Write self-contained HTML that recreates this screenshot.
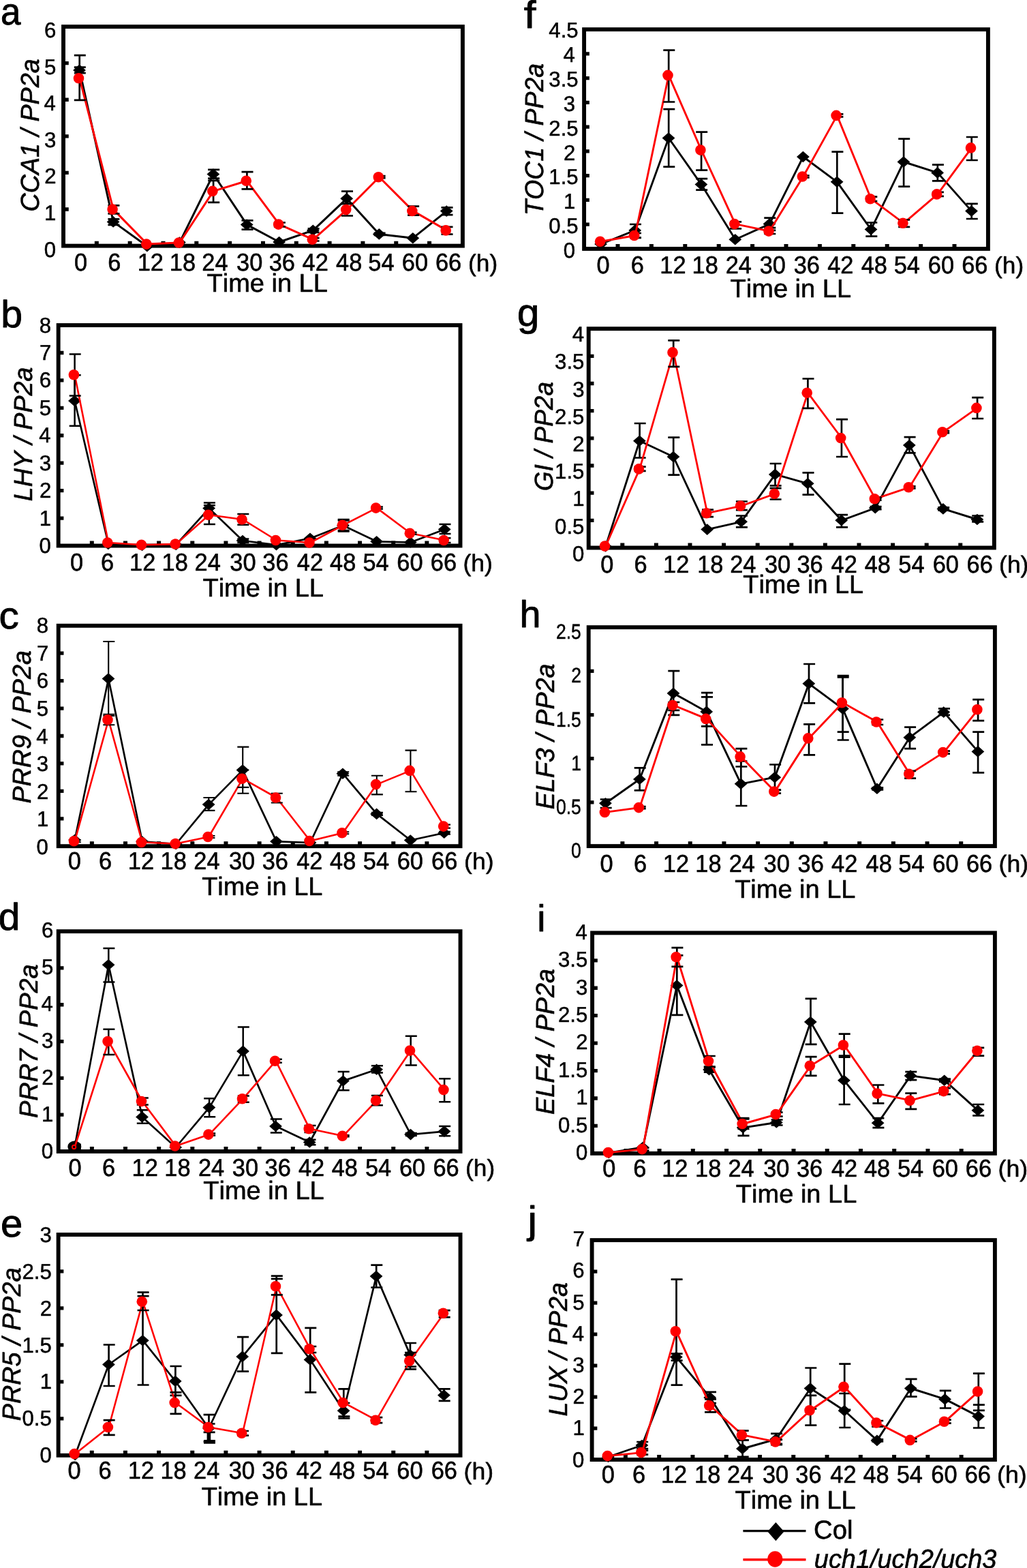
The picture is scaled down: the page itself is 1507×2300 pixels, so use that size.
<!DOCTYPE html>
<html lang="en"><head><meta charset="utf-8"><title>Figure</title>
<style>
html,body{margin:0;padding:0;background:#fff}
body{width:1507px;height:2300px;overflow:hidden}
svg{display:block}
text{font-family:"Liberation Sans",sans-serif;font-size:100px;font-kerning:none;fill:#000;stroke:#000;stroke-width:1.6px;stroke-linejoin:round;text-rendering:geometricPrecision}
</style></head><body>
<svg width="1507" height="2300" viewBox="0 0 1507 2300" role="img" aria-label="Time-course expression of circadian clock genes in Col and uch1/uch2/uch3 under constant light">
<rect width="1507" height="2300" fill="#fff"/>
<g>
<path d="M93 307.02h7.75M93 253.43h7.75M93 199.85h7.75M93 146.27h7.75M93 92.68h7.75" stroke="#000" stroke-width="5.3" fill="none"/>
<path d="M141.82 360.6v-6.95M190.65 360.6v-6.95M239.47 360.6v-6.95M288.3 360.6v-6.95M337.12 360.6v-6.95M385.95 360.6v-6.95M434.78 360.6v-6.95M483.6 360.6v-6.95M532.42 360.6v-6.95M581.25 360.6v-6.95M630.07 360.6v-6.95" stroke="#000" stroke-width="6" fill="none"/>
<rect x="93" y="39.1" width="585.9" height="321.5" fill="none" stroke="#000" stroke-width="5.9"/>
<polyline points="116.7,102.9 166.3,325.4 216.05,361.3 263.6,355.6 313.1,255.5 362.4,329.6 409.8,355 459.5,337.9 508.9,291.2 556.5,343.4 606,349.2 655.4,309.6" fill="none" stroke="#000" stroke-width="3" stroke-linejoin="round"/>
<path d="M116.7 98.6V107.2M108.8 98.6H125.8M108.8 107.2H125.8M166.3 321.3V329.8M158.4 321.3H175.4M158.4 329.8H175.4M313.1 248.9V261.7M305.2 248.9H322.2M305.2 261.7H322.2M362.4 323.3V336.6M354.5 323.3H371.5M354.5 336.6H371.5M459.5 335.4V340.9M451.6 335.4H468.6M451.6 340.9H468.6M508.9 280.6V298.8M501 280.6H518M501 298.8H518M556.5 341.9V344.9M548.6 341.9H565.6M548.6 344.9H565.6M655.4 304.4V315.2M647.5 304.4H664.5M647.5 315.2H664.5" stroke="#000" stroke-width="2.7" fill="none"/>
<path d="M107.1 102.9L116.5 94.6L125.9 102.9L116.5 111.2ZM156.7 325.4L166.1 317.1L175.5 325.4L166.1 333.7ZM206.45 361.3L215.85 353L225.25 361.3L215.85 369.6ZM254 355.6L263.4 347.3L272.8 355.6L263.4 363.9ZM303.5 255.5L312.9 247.2L322.3 255.5L312.9 263.8ZM352.8 329.6L362.2 321.3L371.6 329.6L362.2 337.9ZM400.2 355L409.6 346.7L419 355L409.6 363.3ZM449.9 337.9L459.3 329.6L468.7 337.9L459.3 346.2ZM499.3 291.2L508.7 282.9L518.1 291.2L508.7 299.5ZM546.9 343.4L556.3 335.1L565.7 343.4L556.3 351.7ZM596.4 349.2L605.8 340.9L615.2 349.2L605.8 357.5ZM645.8 309.6L655.2 301.3L664.6 309.6L655.2 317.9Z" fill="#000"/>
<polyline points="116.7,114.7 166.3,307.1 216.05,358.1 263.6,356 313.1,280.4 362.4,265.3 409.8,329.1 459.5,351.3 508.9,307.6 556.5,259.7 606,309.4 655.4,337.9" fill="none" stroke="#ff0000" stroke-width="3" stroke-linejoin="round"/>
<path d="M116.7 81.2V146.8M108.8 81.2H125.8M108.8 146.8H125.8M166.3 301.3V313.4M158.4 301.3H175.4M158.4 313.4H175.4M313.1 264.8V296.8M305.2 264.8H322.2M305.2 296.8H322.2M362.4 252.2V277.4M354.5 252.2H371.5M354.5 277.4H371.5M409.8 326.5V332.3M401.9 326.5H418.9M401.9 332.3H418.9M459.5 349.2V353.5M451.6 349.2H468.6M451.6 353.5H468.6M508.9 298.8V316.5M501 298.8H518M501 316.5H518M556.5 258.2V261.2M548.6 258.2H565.6M548.6 261.2H565.6M606 302.6V315.7M598.1 302.6H615.1M598.1 315.7H615.1M655.4 332.8V343.7M647.5 332.8H664.5M647.5 343.7H664.5" stroke="#000" stroke-width="2.7" fill="none"/>
<g fill="#ff0000"><circle cx="115.5" cy="114.7" r="7.8"/><circle cx="165.1" cy="307.1" r="7.8"/><circle cx="214.85" cy="358.1" r="7.8"/><circle cx="262.4" cy="356" r="7.8"/><circle cx="311.9" cy="280.4" r="7.8"/><circle cx="361.2" cy="265.3" r="7.8"/><circle cx="408.6" cy="329.1" r="7.8"/><circle cx="458.3" cy="351.3" r="7.8"/><circle cx="507.7" cy="307.6" r="7.8"/><circle cx="555.3" cy="259.7" r="7.8"/><circle cx="604.8" cy="309.4" r="7.8"/><circle cx="654.2" cy="337.9" r="7.8"/></g>
<text transform="matrix(0.5286 0 0 0.5551 0.98 35.81)">a</text>
<text transform="matrix(0 -0.3769 0.3798 0 56.63 310.48)" font-style="italic">CCA1 / PP2a</text>
<text transform="matrix(0.3120 0 0 0.3160 64.82 376.67)">0</text>
<text transform="matrix(0.3120 0 0 0.3160 65.12 323.07)">1</text>
<text transform="matrix(0.3120 0 0 0.3160 65.17 269.47)">2</text>
<text transform="matrix(0.3120 0 0 0.3160 64.97 215.87)">3</text>
<text transform="matrix(0.3120 0 0 0.3160 64.51 162.27)">4</text>
<text transform="matrix(0.3120 0 0 0.3160 64.91 108.67)">5</text>
<text transform="matrix(0.3120 0 0 0.3160 64.97 55.07)">6</text>
<text transform="matrix(0.3440 0 0 0.3590 109.08 396.58)">0</text>
<text transform="matrix(0.3440 0 0 0.3590 158.17 396.58)">6</text>
<text transform="matrix(0.3440 0 0 0.3590 201.72 396.58)">12</text>
<text transform="matrix(0.3440 0 0 0.3590 248.81 396.58)">18</text>
<text transform="matrix(0.3440 0 0 0.3590 296.31 396.58)">24</text>
<text transform="matrix(0.3440 0 0 0.3590 347.09 396.58)">30</text>
<text transform="matrix(0.3440 0 0 0.3590 394.67 396.58)">36</text>
<text transform="matrix(0.3440 0 0 0.3590 443.54 396.58)">42</text>
<text transform="matrix(0.3440 0 0 0.3590 493.02 396.58)">48</text>
<text transform="matrix(0.3440 0 0 0.3590 540.28 396.58)">54</text>
<text transform="matrix(0.3440 0 0 0.3590 589.87 396.58)">60</text>
<text transform="matrix(0.3440 0 0 0.3590 638.95 396.58)">66</text>
<text transform="matrix(0.3527 0 0 0.3525 687.09 397.52)">(h)</text>
<text transform="matrix(0.3796 0 0 0.3760 303.55 428.4)">Time in LL</text>
</g>
<g>
<path d="M85.65 760.07h7.75M85.65 719.64h7.75M85.65 679.21h7.75M85.65 638.77h7.75M85.65 598.34h7.75M85.65 557.91h7.75M85.65 517.48h7.75" stroke="#000" stroke-width="5.3" fill="none"/>
<path d="M134.8 800.5v-6.95M183.96 800.5v-6.95M233.11 800.5v-6.95M282.27 800.5v-6.95M331.42 800.5v-6.95M380.58 800.5v-6.95M429.73 800.5v-6.95M478.88 800.5v-6.95M528.04 800.5v-6.95M577.19 800.5v-6.95M626.35 800.5v-6.95" stroke="#000" stroke-width="6" fill="none"/>
<rect x="85.65" y="477.05" width="589.85" height="323.45" fill="none" stroke="#000" stroke-width="5.9"/>
<polyline points="109.6,588 159,798 208.7,800 258.4,799 306.8,745.6 356.2,793 405.7,799.3 455.2,789.7 503.6,770.8 552.8,794.3 602.5,795.5 652.4,776.6" fill="none" stroke="#000" stroke-width="2.7" stroke-linejoin="round"/>
<path d="M109.6 550.2V624.8M101.7 550.2H118.7M101.7 624.8H118.7M306.8 737.5V753.9M298.9 737.5H315.9M298.9 753.9H315.9M356.2 790.5V796M348.3 790.5H365.3M348.3 796H365.3M503.6 762V779.4M495.7 762H512.7M495.7 779.4H512.7M652.4 769V782.9M644.5 769H661.5M644.5 782.9H661.5" stroke="#000" stroke-width="2.5" fill="none"/>
<path d="M100 588L109.4 579.7L118.8 588L109.4 596.3ZM149.4 798L158.8 789.7L168.2 798L158.8 806.3ZM199.1 800L208.5 791.7L217.9 800L208.5 808.3ZM248.8 799L258.2 790.7L267.6 799L258.2 807.3ZM297.2 745.6L306.6 737.3L316 745.6L306.6 753.9ZM346.6 793L356 784.7L365.4 793L356 801.3ZM396.1 799.3L405.5 791L414.9 799.3L405.5 807.6ZM445.6 789.7L455 781.4L464.4 789.7L455 798ZM494 770.8L503.4 762.5L512.8 770.8L503.4 779.1ZM543.2 794.3L552.6 786L562 794.3L552.6 802.6ZM592.9 795.5L602.3 787.2L611.7 795.5L602.3 803.8ZM642.8 776.6L652.2 768.3L661.6 776.6L652.2 784.9Z" fill="#000"/>
<polyline points="109.6,549.7 159,796 208.7,799.3 258.4,798.1 306.8,755.2 356.2,762 405.7,792.5 455.2,796 503.6,770.3 552.8,745.1 602.5,782.2 652.4,792.5" fill="none" stroke="#ff0000" stroke-width="2.6" stroke-linejoin="round"/>
<path d="M109.6 519.4V580.5M101.7 519.4H118.7M101.7 580.5H118.7M306.8 741.3V769.1M298.9 741.3H315.9M298.9 769.1H315.9M356.2 753.9V769.8M348.3 753.9H365.3M348.3 769.8H365.3M503.6 763.4V778M495.7 763.4H512.7M495.7 778H512.7M552.8 743.6V746.6M544.9 743.6H561.9M544.9 746.6H561.9M602.5 780.7V783.7M594.6 780.7H611.6M594.6 783.7H611.6M652.4 789.2V796M644.5 789.2H661.5M644.5 796H661.5" stroke="#000" stroke-width="2.5" fill="none"/>
<g fill="#ff0000"><circle cx="108.4" cy="549.7" r="7.8"/><circle cx="157.8" cy="796" r="7.8"/><circle cx="207.5" cy="799.3" r="7.8"/><circle cx="257.2" cy="798.1" r="7.8"/><circle cx="305.6" cy="755.2" r="7.8"/><circle cx="355" cy="762" r="7.8"/><circle cx="404.5" cy="792.5" r="7.8"/><circle cx="454" cy="796" r="7.8"/><circle cx="502.4" cy="770.3" r="7.8"/><circle cx="551.6" cy="745.1" r="7.8"/><circle cx="601.3" cy="782.2" r="7.8"/><circle cx="651.2" cy="792.5" r="7.8"/></g>
<text transform="matrix(0.5712 0 0 0.5571 1.28 479.81)">b</text>
<text transform="matrix(0 -0.3765 0.3798 0 47.33 735.26)" font-style="italic">LHY / PP2a</text>
<text transform="matrix(0.3120 0 0 0.3160 57.57 810.97)">0</text>
<text transform="matrix(0.3120 0 0 0.3160 57.87 770.54)">1</text>
<text transform="matrix(0.3120 0 0 0.3160 57.92 730.12)">2</text>
<text transform="matrix(0.3120 0 0 0.3160 57.72 689.69)">3</text>
<text transform="matrix(0.3120 0 0 0.3160 57.26 649.27)">4</text>
<text transform="matrix(0.3120 0 0 0.3160 57.66 608.84)">5</text>
<text transform="matrix(0.3120 0 0 0.3160 57.72 568.42)">6</text>
<text transform="matrix(0.3120 0 0 0.3160 57.92 527.99)">7</text>
<text transform="matrix(0.3120 0 0 0.3160 57.7 487.57)">8</text>
<text transform="matrix(0.3440 0 0 0.3590 103.08 837.28)">0</text>
<text transform="matrix(0.3440 0 0 0.3590 147.92 837.28)">6</text>
<text transform="matrix(0.3440 0 0 0.3590 190.12 837.28)">12</text>
<text transform="matrix(0.3440 0 0 0.3590 237.51 837.28)">18</text>
<text transform="matrix(0.3440 0 0 0.3590 285.61 837.28)">24</text>
<text transform="matrix(0.3440 0 0 0.3590 337.29 837.28)">30</text>
<text transform="matrix(0.3440 0 0 0.3590 385.27 837.28)">36</text>
<text transform="matrix(0.3440 0 0 0.3590 435.84 837.28)">42</text>
<text transform="matrix(0.3440 0 0 0.3590 484.02 837.28)">48</text>
<text transform="matrix(0.3440 0 0 0.3590 532.48 837.28)">54</text>
<text transform="matrix(0.3440 0 0 0.3590 582.37 837.28)">60</text>
<text transform="matrix(0.3440 0 0 0.3590 631.85 837.28)">66</text>
<text transform="matrix(0.3554 0 0 0.3514 679.38 838.04)">(h)</text>
<text transform="matrix(0.3802 0 0 0.3760 297.45 875.3)">Time in LL</text>
</g>
<g>
<path d="M85.7 1200.78h7.75M85.7 1160.35h7.75M85.7 1119.92h7.75M85.7 1079.5h7.75M85.7 1039.08h7.75M85.7 998.65h7.75M85.7 958.22h7.75" stroke="#000" stroke-width="5.3" fill="none"/>
<path d="M134.85 1241.2v-6.95M184.01 1241.2v-6.95M233.16 1241.2v-6.95M282.32 1241.2v-6.95M331.47 1241.2v-6.95M380.62 1241.2v-6.95M429.78 1241.2v-6.95M478.93 1241.2v-6.95M528.09 1241.2v-6.95M577.24 1241.2v-6.95M626.4 1241.2v-6.95" stroke="#000" stroke-width="6" fill="none"/>
<rect x="85.7" y="917.8" width="589.85" height="323.4" fill="none" stroke="#000" stroke-width="5.9"/>
<polyline points="109.7,1232 159.2,995.5 208.7,1234.3 258.4,1238 306.3,1180.1 356.2,1129.6 405.7,1234.3 455.2,1236 503.1,1134.7 552.8,1193.9 602.4,1232.5 651.9,1221.7" fill="none" stroke="#000" stroke-width="2.7" stroke-linejoin="round"/>
<path d="M159.2 941V1050M151.3 941H168.3M151.3 1050H168.3M306.3 1170V1188.9M298.4 1170H315.4M298.4 1188.9H315.4M356.2 1095.6V1163.7M348.3 1095.6H365.3M348.3 1163.7H365.3M503.1 1132.2V1137.7M495.2 1132.2H512.2M495.2 1137.7H512.2M552.8 1191.9V1195.9M544.9 1191.9H561.9M544.9 1195.9H561.9M651.9 1219.7V1223.7M644 1219.7H661M644 1223.7H661" stroke="#000" stroke-width="2.1" fill="none"/>
<path d="M100.1 1232L109.5 1223.7L118.9 1232L109.5 1240.3ZM149.6 995.5L159 987.2L168.4 995.5L159 1003.8ZM199.1 1234.3L208.5 1226L217.9 1234.3L208.5 1242.6ZM248.8 1238L258.2 1229.7L267.6 1238L258.2 1246.3ZM296.7 1180.1L306.1 1171.8L315.5 1180.1L306.1 1188.4ZM346.6 1129.6L356 1121.3L365.4 1129.6L356 1137.9ZM396.1 1234.3L405.5 1226L414.9 1234.3L405.5 1242.6ZM445.6 1236L455 1227.7L464.4 1236L455 1244.3ZM493.5 1134.7L502.9 1126.4L512.3 1134.7L502.9 1143ZM543.2 1193.9L552.6 1185.6L562 1193.9L552.6 1202.2ZM592.8 1232.5L602.2 1224.2L611.6 1232.5L602.2 1240.8ZM642.3 1221.7L651.7 1213.4L661.1 1221.7L651.7 1230Z" fill="#000"/>
<polyline points="109.7,1233.8 159.2,1055.8 208.7,1235.5 258.4,1237.6 306.3,1227.5 356.2,1142.2 405.7,1170 455.2,1233.5 503.1,1221.7 552.8,1150.6 602.4,1130.4 651.9,1212.1" fill="none" stroke="#ff0000" stroke-width="2.6" stroke-linejoin="round"/>
<path d="M109.7 1232.3V1235.3M101.8 1232.3H118.8M101.8 1235.3H118.8M159.2 1047.7V1063.3M151.3 1047.7H168.3M151.3 1063.3H168.3M306.3 1226V1229M298.4 1226H315.4M298.4 1229H315.4M356.2 1129.5V1154.9M348.3 1129.5H365.3M348.3 1154.9H365.3M405.7 1163.7V1177.5M397.8 1163.7H414.8M397.8 1177.5H414.8M503.1 1220.2V1223.2M495.2 1220.2H512.2M495.2 1223.2H512.2M552.8 1137.7V1165.4M544.9 1137.7H561.9M544.9 1165.4H561.9M602.4 1100.6V1161.2M594.5 1100.6H611.5M594.5 1161.2H611.5M651.9 1209.6V1214.6M644 1209.6H661M644 1214.6H661" stroke="#000" stroke-width="2.1" fill="none"/>
<g fill="#ff0000"><circle cx="108.5" cy="1233.8" r="7.8"/><circle cx="158" cy="1055.8" r="7.8"/><circle cx="207.5" cy="1235.5" r="7.8"/><circle cx="257.2" cy="1237.6" r="7.8"/><circle cx="305.1" cy="1227.5" r="7.8"/><circle cx="355" cy="1142.2" r="7.8"/><circle cx="404.5" cy="1170" r="7.8"/><circle cx="454" cy="1233.5" r="7.8"/><circle cx="501.9" cy="1221.7" r="7.8"/><circle cx="551.6" cy="1150.6" r="7.8"/><circle cx="601.2" cy="1130.4" r="7.8"/><circle cx="650.7" cy="1212.1" r="7.8"/></g>
<text transform="matrix(0.5859 0 0 0.5533 -1.52 922.32)">c</text>
<text transform="matrix(0 -0.3774 0.3798 0 44.93 1178.56)" font-style="italic">PRR9 / PP2a</text>
<text transform="matrix(0.3120 0 0 0.3160 53.62 1252.67)">0</text>
<text transform="matrix(0.3120 0 0 0.3160 53.92 1212.13)">1</text>
<text transform="matrix(0.3120 0 0 0.3160 53.97 1171.59)">2</text>
<text transform="matrix(0.3120 0 0 0.3160 53.77 1131.06)">3</text>
<text transform="matrix(0.3120 0 0 0.3160 53.31 1090.52)">4</text>
<text transform="matrix(0.3120 0 0 0.3160 53.71 1049.98)">5</text>
<text transform="matrix(0.3120 0 0 0.3160 53.77 1009.44)">6</text>
<text transform="matrix(0.3120 0 0 0.3160 53.97 968.91)">7</text>
<text transform="matrix(0.3120 0 0 0.3160 53.75 928.37)">8</text>
<text transform="matrix(0.3440 0 0 0.3590 99.78 1274.88)">0</text>
<text transform="matrix(0.3440 0 0 0.3590 144.92 1274.88)">6</text>
<text transform="matrix(0.3440 0 0 0.3590 187.82 1274.88)">12</text>
<text transform="matrix(0.3440 0 0 0.3590 235.61 1274.88)">18</text>
<text transform="matrix(0.3440 0 0 0.3590 284.31 1274.88)">24</text>
<text transform="matrix(0.3440 0 0 0.3590 335.89 1274.88)">30</text>
<text transform="matrix(0.3440 0 0 0.3590 384.67 1274.88)">36</text>
<text transform="matrix(0.3440 0 0 0.3590 435.24 1274.88)">42</text>
<text transform="matrix(0.3440 0 0 0.3590 484.02 1274.88)">48</text>
<text transform="matrix(0.3440 0 0 0.3590 532.78 1274.88)">54</text>
<text transform="matrix(0.3440 0 0 0.3590 582.67 1274.88)">60</text>
<text transform="matrix(0.3440 0 0 0.3590 633.1 1274.88)">66</text>
<text transform="matrix(0.3554 0 0 0.3408 681.08 1275.27)">(h)</text>
<text transform="matrix(0.3798 0 0 0.3760 296.15 1313)">Time in LL</text>
</g>
<g>
<path d="M85.7 1635.15h7.75M85.7 1581.35h7.75M85.7 1527.55h7.75M85.7 1473.75h7.75M85.7 1419.95h7.75" stroke="#000" stroke-width="5.3" fill="none"/>
<path d="M134.85 1688.95v-6.95M184.01 1688.95v-6.95M233.16 1688.95v-6.95M282.32 1688.95v-6.95M331.47 1688.95v-6.95M380.62 1688.95v-6.95M429.78 1688.95v-6.95M478.93 1688.95v-6.95M528.09 1688.95v-6.95M577.24 1688.95v-6.95M626.4 1688.95v-6.95" stroke="#000" stroke-width="6" fill="none"/>
<rect x="85.7" y="1366.15" width="589.85" height="322.8" fill="none" stroke="#000" stroke-width="5.9"/>
<polyline points="109.7,1681.8 159.3,1415.3 208.7,1638.4 257.9,1683 307.1,1624.6 356.7,1541.9 404.7,1652 454.4,1675.5 503.6,1585.5 552.8,1568.8 602.7,1664.1 652.1,1659.6" fill="none" stroke="#000" stroke-width="2.7" stroke-linejoin="round"/>
<path d="M109.7 1678.8V1684.8M101.8 1678.8H118.8M101.8 1684.8H118.8M159.3 1391.1V1440.5M151.4 1391.1H168.4M151.4 1440.5H168.4M208.7 1628.3V1647.8M200.8 1628.3H217.8M200.8 1647.8H217.8M307.1 1611.2V1638.2M299.2 1611.2H316.2M299.2 1638.2H316.2M356.7 1506.6V1577.2M348.8 1506.6H365.8M348.8 1577.2H365.8M404.7 1641.5V1661.6M396.8 1641.5H413.8M396.8 1661.6H413.8M454.4 1671.7V1679.3M446.5 1671.7H463.5M446.5 1679.3H463.5M503.6 1572.1V1599.3M495.7 1572.1H512.7M495.7 1599.3H512.7M552.8 1563.3V1573.4M544.9 1563.3H561.9M544.9 1573.4H561.9M602.7 1662.1V1666.1M594.8 1662.1H611.8M594.8 1666.1H611.8M652.1 1652V1666.2M644.2 1652H661.2M644.2 1666.2H661.2" stroke="#000" stroke-width="2.5" fill="none"/>
<path d="M100.1 1681.8L109.5 1673.5L118.9 1681.8L109.5 1690.1ZM149.7 1415.3L159.1 1407L168.5 1415.3L159.1 1423.6ZM199.1 1638.4L208.5 1630.1L217.9 1638.4L208.5 1646.7ZM248.3 1683L257.7 1674.7L267.1 1683L257.7 1691.3ZM297.5 1624.6L306.9 1616.3L316.3 1624.6L306.9 1632.9ZM347.1 1541.9L356.5 1533.6L365.9 1541.9L356.5 1550.2ZM395.1 1652L404.5 1643.7L413.9 1652L404.5 1660.3ZM444.8 1675.5L454.2 1667.2L463.6 1675.5L454.2 1683.8ZM494 1585.5L503.4 1577.2L512.8 1585.5L503.4 1593.8ZM543.2 1568.8L552.6 1560.5L562 1568.8L552.6 1577.1ZM593.1 1664.1L602.5 1655.8L611.9 1664.1L602.5 1672.4ZM642.5 1659.6L651.9 1651.3L661.3 1659.6L651.9 1667.9Z" fill="#000"/>
<ellipse cx="109.3" cy="1682.1" rx="10" ry="8.6" fill="#000"/>
<polyline points="109.7,1682.5 159.3,1527.5 208.7,1615.5 257.9,1681 307.1,1664.1 356.7,1611.7 404.7,1556.2 454.4,1655.8 503.6,1666.2 552.8,1614.2 602.7,1541.1 652.1,1598.6" fill="none" stroke="#ff0000" stroke-width="2.6" stroke-linejoin="round"/>
<path d="M159.3 1509.8V1546.9M151.4 1509.8H168.4M151.4 1546.9H168.4M208.7 1610.5V1620.5M200.8 1610.5H217.8M200.8 1620.5H217.8M307.1 1662.6V1665.6M299.2 1662.6H316.2M299.2 1665.6H316.2M356.7 1607.4V1616.7M348.8 1607.4H365.8M348.8 1616.7H365.8M404.7 1553.7V1558.7M396.8 1553.7H413.8M396.8 1558.7H413.8M454.4 1651V1661M446.5 1651H463.5M446.5 1661H463.5M503.6 1665.2V1667.2M495.7 1665.2H512.7M495.7 1667.2H512.7M552.8 1606.9V1621.3M544.9 1606.9H561.9M544.9 1621.3H561.9M602.7 1519.7V1562.5M594.8 1519.7H611.8M594.8 1562.5H611.8M652.1 1582.2V1616.2M644.2 1582.2H661.2M644.2 1616.2H661.2" stroke="#000" stroke-width="2.5" fill="none"/>
<g fill="#ff0000"><circle cx="158.1" cy="1527.5" r="7.8"/><circle cx="207.5" cy="1615.5" r="7.8"/><circle cx="256.7" cy="1681" r="7.8"/><circle cx="305.9" cy="1664.1" r="7.8"/><circle cx="355.5" cy="1611.7" r="7.8"/><circle cx="403.5" cy="1556.2" r="7.8"/><circle cx="453.2" cy="1655.8" r="7.8"/><circle cx="502.4" cy="1666.2" r="7.8"/><circle cx="551.6" cy="1614.2" r="7.8"/><circle cx="601.5" cy="1541.1" r="7.8"/><circle cx="650.9" cy="1598.6" r="7.8"/></g>
<circle cx="108.6" cy="1682.5" r="2.7" fill="#000" stroke="#ff0000" stroke-width="1.9"/>
<text transform="matrix(0.5669 0 0 0.5571 -2.23 1364.31)">d</text>
<text transform="matrix(0 -0.3794 0.3798 0 54.53 1639.96)" font-style="italic">PRR7 / PP2a</text>
<text transform="matrix(0.3120 0 0 0.3160 60.82 1698.67)">0</text>
<text transform="matrix(0.3120 0 0 0.3160 61.12 1644.77)">1</text>
<text transform="matrix(0.3120 0 0 0.3160 61.17 1590.87)">2</text>
<text transform="matrix(0.3120 0 0 0.3160 60.97 1536.97)">3</text>
<text transform="matrix(0.3120 0 0 0.3160 60.51 1483.07)">4</text>
<text transform="matrix(0.3120 0 0 0.3160 60.91 1429.17)">5</text>
<text transform="matrix(0.3120 0 0 0.3160 60.97 1375.27)">6</text>
<text transform="matrix(0.3440 0 0 0.3590 100.58 1724.88)">0</text>
<text transform="matrix(0.3440 0 0 0.3590 149.92 1724.88)">6</text>
<text transform="matrix(0.3440 0 0 0.3590 193.52 1724.88)">12</text>
<text transform="matrix(0.3440 0 0 0.3590 241.31 1724.88)">18</text>
<text transform="matrix(0.3440 0 0 0.3590 290.91 1724.88)">24</text>
<text transform="matrix(0.3440 0 0 0.3590 340.79 1724.88)">30</text>
<text transform="matrix(0.3440 0 0 0.3590 388.57 1724.88)">36</text>
<text transform="matrix(0.3440 0 0 0.3590 437.94 1724.88)">42</text>
<text transform="matrix(0.3440 0 0 0.3590 486.72 1724.88)">48</text>
<text transform="matrix(0.3440 0 0 0.3590 535.98 1724.88)">54</text>
<text transform="matrix(0.3440 0 0 0.3590 585.92 1724.88)">60</text>
<text transform="matrix(0.3440 0 0 0.3590 635.45 1724.88)">66</text>
<text transform="matrix(0.3527 0 0 0.3461 683.09 1725.16)">(h)</text>
<text transform="matrix(0.3802 0 0 0.3760 298.25 1759.05)">Time in LL</text>
</g>
<g>
<path d="M85.6 2080.83h7.75M85.6 2026.87h7.75M85.6 1972.9h7.75M85.6 1918.93h7.75M85.6 1864.97h7.75" stroke="#000" stroke-width="5.3" fill="none"/>
<path d="M134.76 2134.8v-6.95M183.92 2134.8v-6.95M233.09 2134.8v-6.95M282.25 2134.8v-6.95M331.41 2134.8v-6.95M380.57 2134.8v-6.95M429.74 2134.8v-6.95M478.9 2134.8v-6.95M528.06 2134.8v-6.95M577.22 2134.8v-6.95M626.39 2134.8v-6.95" stroke="#000" stroke-width="6" fill="none"/>
<rect x="85.6" y="1811" width="589.95" height="323.8" fill="none" stroke="#000" stroke-width="5.9"/>
<polyline points="110.4,2134 159.6,2001.5 209.5,1966.2 257.4,2025.9 306.5,2095 355.9,1989.9 405.7,1928.9 455.2,1994.4 504.3,2069.3 552.2,1872.1 601.9,1987.4 651.6,2046.6" fill="none" stroke="#000" stroke-width="2.7" stroke-linejoin="round"/>
<path d="M159.6 1972.5V2033M151.7 1972.5H168.7M151.7 2033H168.7M209.5 1901.1V2031.5M201.6 1901.1H218.6M201.6 2031.5H218.6M257.4 2004V2046.9M249.5 2004H266.5M249.5 2046.9H266.5M306.5 2075.1V2114.7M298.6 2075.1H315.6M298.6 2114.7H315.6M355.9 1961.1V2011.6M348 1961.1H365M348 2011.6H365M405.7 1871.6V1984.8M397.8 1871.6H414.8M397.8 1984.8H414.8M455.2 1947.8V2042.3M447.3 1947.8H464.3M447.3 2042.3H464.3M504.3 2058V2080.5M496.4 2058H513.4M496.4 2080.5H513.4M552.2 1855.7V1888.5M544.3 1855.7H561.3M544.3 1888.5H561.3M601.9 1970V2004.7M594 1970H611M594 2004.7H611M651.6 2037.3V2054.9M643.7 2037.3H660.7M643.7 2054.9H660.7" stroke="#000" stroke-width="2.7" fill="none"/>
<path d="M100.8 2134L110.2 2125.7L119.6 2134L110.2 2142.3ZM150 2001.5L159.4 1993.2L168.8 2001.5L159.4 2009.8ZM199.9 1966.2L209.3 1957.9L218.7 1966.2L209.3 1974.5ZM247.8 2025.9L257.2 2017.6L266.6 2025.9L257.2 2034.2ZM296.9 2095L306.3 2086.7L315.7 2095L306.3 2103.3ZM346.3 1989.9L355.7 1981.6L365.1 1989.9L355.7 1998.2ZM396.1 1928.9L405.5 1920.6L414.9 1928.9L405.5 1937.2ZM445.6 1994.4L455 1986.1L464.4 1994.4L455 2002.7ZM494.7 2069.3L504.1 2061L513.5 2069.3L504.1 2077.6ZM542.6 1872.1L552 1863.8L561.4 1872.1L552 1880.4ZM592.3 1987.4L601.7 1979.1L611.1 1987.4L601.7 1995.7ZM642 2046.6L651.4 2038.3L660.8 2046.6L651.4 2054.9Z" fill="#000"/>
<path d="M303.6 2101h5.6v11h6.7v5.8h-16.9v-5.8h4.6z" fill="#000"/>
<polyline points="110.4,2132.6 159.6,2093.5 209.5,1909.2 257.4,2057.5 306.5,2093.5 355.9,2102.3 405.7,1886.7 455.2,1978.8 504.3,2057.5 552.2,2083.2 601.9,1996.2 651.6,1926.3" fill="none" stroke="#ff0000" stroke-width="2.6" stroke-linejoin="round"/>
<path d="M159.6 2083.2V2104.9M151.7 2083.2H168.7M151.7 2104.9H168.7M209.5 1895.6V1922M201.6 1895.6H218.6M201.6 1922H218.6M257.4 2042.3V2073.8M249.5 2042.3H266.5M249.5 2073.8H266.5M306.5 2088.5V2100.8M298.6 2088.5H315.6M298.6 2100.8H315.6M355.9 2099V2105.6M348 2099H365M348 2105.6H365M405.7 1875.9V1899.4M397.8 1875.9H414.8M397.8 1899.4H414.8M455.2 1975V1984M447.3 1975H464.3M447.3 1984H464.3M504.3 2037.3V2077.7M496.4 2037.3H513.4M496.4 2077.7H513.4M552.2 2079.2V2087.2M544.3 2079.2H561.3M544.3 2087.2H561.3M601.9 1984V2008.3M594 1984H611M594 2008.3H611M651.6 1922.1V1932.1M643.7 1922.1H660.7M643.7 1932.1H660.7" stroke="#000" stroke-width="2.7" fill="none"/>
<g fill="#ff0000"><circle cx="109.2" cy="2132.6" r="7.8"/><circle cx="158.4" cy="2093.5" r="7.8"/><circle cx="208.3" cy="1909.2" r="7.8"/><circle cx="256.2" cy="2057.5" r="7.8"/><circle cx="305.3" cy="2093.5" r="7.8"/><circle cx="354.7" cy="2102.3" r="7.8"/><circle cx="404.5" cy="1886.7" r="7.8"/><circle cx="454" cy="1978.8" r="7.8"/><circle cx="503.1" cy="2057.5" r="7.8"/><circle cx="551" cy="2083.2" r="7.8"/><circle cx="600.7" cy="1996.2" r="7.8"/><circle cx="650.4" cy="1926.3" r="7.8"/></g>
<text transform="matrix(0.5791 0 0 0.5622 1 1813.6)">e</text>
<text transform="matrix(0 -0.3782 0.3798 0 30.33 2084.26)" font-style="italic">PRR5 / PP2a</text>
<text transform="matrix(0.3120 0 0 0.3160 58.42 2145.37)">0</text>
<text transform="matrix(0.3120 0 0 0.3160 32.49 2091.42)">0.5</text>
<text transform="matrix(0.3120 0 0 0.3160 58.72 2037.47)">1</text>
<text transform="matrix(0.3120 0 0 0.3160 32.49 1983.52)">1.5</text>
<text transform="matrix(0.3120 0 0 0.3160 58.77 1929.57)">2</text>
<text transform="matrix(0.3120 0 0 0.3160 32.49 1875.62)">2.5</text>
<text transform="matrix(0.3120 0 0 0.3160 58.57 1821.67)">3</text>
<text transform="matrix(0.3440 0 0 0.3590 99.38 2169.38)">0</text>
<text transform="matrix(0.3440 0 0 0.3590 144.52 2169.38)">6</text>
<text transform="matrix(0.3440 0 0 0.3590 187.82 2169.38)">12</text>
<text transform="matrix(0.3440 0 0 0.3590 235.41 2169.38)">18</text>
<text transform="matrix(0.3440 0 0 0.3590 284.11 2169.38)">24</text>
<text transform="matrix(0.3440 0 0 0.3590 335.69 2169.38)">30</text>
<text transform="matrix(0.3440 0 0 0.3590 384.37 2169.38)">36</text>
<text transform="matrix(0.3440 0 0 0.3590 434.74 2169.38)">42</text>
<text transform="matrix(0.3440 0 0 0.3590 483.22 2169.38)">48</text>
<text transform="matrix(0.3440 0 0 0.3590 532.28 2169.38)">54</text>
<text transform="matrix(0.3440 0 0 0.3590 582.37 2169.38)">60</text>
<text transform="matrix(0.3440 0 0 0.3590 632.7 2169.38)">66</text>
<text transform="matrix(0.3563 0 0 0.3493 680.58 2169.89)">(h)</text>
<text transform="matrix(0.3802 0 0 0.3760 295.65 2207.6)">Time in LL</text>
</g>
<g>
<path d="M857.1 329.19h7.75M857.1 293.44h7.75M857.1 257.68h7.75M857.1 221.93h7.75M857.1 186.17h7.75M857.1 150.42h7.75M857.1 114.66h7.75M857.1 78.91h7.75" stroke="#000" stroke-width="5.3" fill="none"/>
<path d="M906.5 364.95v-6.95M955.9 364.95v-6.95M1005.3 364.95v-6.95M1054.7 364.95v-6.95M1104.1 364.95v-6.95M1153.5 364.95v-6.95M1202.9 364.95v-6.95M1252.3 364.95v-6.95M1301.7 364.95v-6.95M1351.1 364.95v-6.95M1400.5 364.95v-6.95" stroke="#000" stroke-width="6" fill="none"/>
<rect x="857.1" y="43.15" width="592.8" height="321.8" fill="none" stroke="#000" stroke-width="5.9"/>
<polyline points="881.8,358 931.9,337.9 981.2,202.5 1029.1,270.6 1079,351.3 1129.2,328.6 1178.6,230 1228.3,266.8 1278.2,336.6 1326.1,237.5 1375.8,253.4 1425.7,309.6" fill="none" stroke="#000" stroke-width="2.9" stroke-linejoin="round"/>
<path d="M931.9 329V348.7M924 329H941M924 348.7H941M981.2 160.1V244.6M973.3 160.1H990.3M973.3 244.6H990.3M1029.1 262.2V278.6M1021.2 262.2H1038.2M1021.2 278.6H1038.2M1129.2 319.7V337.9M1121.3 319.7H1138.3M1121.3 337.9H1138.3M1228.3 222.7V312.7M1220.4 222.7H1237.4M1220.4 312.7H1237.4M1278.2 326.5V346.7M1270.3 326.5H1287.3M1270.3 346.7H1287.3M1326.1 203.7V273.6M1318.2 203.7H1335.2M1318.2 273.6H1335.2M1375.8 241.6V265.3M1367.9 241.6H1384.9M1367.9 265.3H1384.9M1425.7 298.8V321M1417.8 298.8H1434.8M1417.8 321H1434.8" stroke="#000" stroke-width="2.7" fill="none"/>
<path d="M872.2 358L881.6 349.7L891 358L881.6 366.3ZM922.3 337.9L931.7 329.6L941.1 337.9L931.7 346.2ZM971.6 202.5L981 194.2L990.4 202.5L981 210.8ZM1019.5 270.6L1028.9 262.3L1038.3 270.6L1028.9 278.9ZM1069.4 351.3L1078.8 343L1088.2 351.3L1078.8 359.6ZM1119.6 328.6L1129 320.3L1138.4 328.6L1129 336.9ZM1169 230L1178.4 221.7L1187.8 230L1178.4 238.3ZM1218.7 266.8L1228.1 258.5L1237.5 266.8L1228.1 275.1ZM1268.6 336.6L1278 328.3L1287.4 336.6L1278 344.9ZM1316.5 237.5L1325.9 229.2L1335.3 237.5L1325.9 245.8ZM1366.2 253.4L1375.6 245.1L1385 253.4L1375.6 261.7ZM1416.1 309.6L1425.5 301.3L1434.9 309.6L1425.5 317.9Z" fill="#000"/>
<polyline points="881.8,354.3 931.9,345.5 981.2,110.4 1029.1,220.1 1079,328.6 1129.2,339.1 1178.6,259 1228.3,169.4 1278.2,291.7 1326.1,327.3 1375.8,284.9 1425.7,216.9" fill="none" stroke="#ff0000" stroke-width="2.9" stroke-linejoin="round"/>
<path d="M931.9 342V349M924 342H941M924 349H941M981.2 73.6V149.5M973.3 73.6H990.3M973.3 149.5H990.3M1029.1 193.7V249.6M1021.2 193.7H1038.2M1021.2 249.6H1038.2M1079 325.3V335.4M1071.1 325.3H1088.1M1071.1 335.4H1088.1M1129.2 334.1V343M1121.3 334.1H1138.3M1121.3 343H1138.3M1178.6 257.5V260.5M1170.7 257.5H1187.7M1170.7 260.5H1187.7M1228.3 167.4V171.4M1220.4 167.4H1237.4M1220.4 171.4H1237.4M1278.2 288.7V295M1270.3 288.7H1287.3M1270.3 295H1287.3M1326.1 322.3V332.8M1318.2 322.3H1335.2M1318.2 332.8H1335.2M1375.8 281.9V287.9M1367.9 281.9H1384.9M1367.9 287.9H1384.9M1425.7 201V235M1417.8 201H1434.8M1417.8 235H1434.8" stroke="#000" stroke-width="2.7" fill="none"/>
<g fill="#ff0000"><circle cx="880.6" cy="354.3" r="7.8"/><circle cx="930.7" cy="345.5" r="7.8"/><circle cx="980" cy="110.4" r="7.8"/><circle cx="1027.9" cy="220.1" r="7.8"/><circle cx="1077.8" cy="328.6" r="7.8"/><circle cx="1128" cy="339.1" r="7.8"/><circle cx="1177.4" cy="259" r="7.8"/><circle cx="1227.1" cy="169.4" r="7.8"/><circle cx="1277" cy="291.7" r="7.8"/><circle cx="1324.9" cy="327.3" r="7.8"/><circle cx="1374.6" cy="284.9" r="7.8"/><circle cx="1424.5" cy="216.9" r="7.8"/></g>
<text transform="matrix(0.6367 0 0 0.5624 768.81 41.35)">f</text>
<text transform="matrix(0 -0.3753 0.3798 0 796.93 315.97)" font-style="italic">TOC1 / PP2a</text>
<text transform="matrix(0.3120 0 0 0.3160 826.72 377.97)">0</text>
<text transform="matrix(0.3120 0 0 0.3160 805.29 342.11)">0.5</text>
<text transform="matrix(0.3120 0 0 0.3160 827.02 306.26)">1</text>
<text transform="matrix(0.3120 0 0 0.3160 805.29 270.4)">1.5</text>
<text transform="matrix(0.3120 0 0 0.3160 827.07 234.55)">2</text>
<text transform="matrix(0.3120 0 0 0.3160 805.29 198.69)">2.5</text>
<text transform="matrix(0.3120 0 0 0.3160 826.87 162.83)">3</text>
<text transform="matrix(0.3120 0 0 0.3160 805.29 126.98)">3.5</text>
<text transform="matrix(0.3120 0 0 0.3160 826.41 91.12)">4</text>
<text transform="matrix(0.3120 0 0 0.3160 805.29 55.27)">4.5</text>
<text transform="matrix(0.3440 0 0 0.3590 875.58 401.13)">0</text>
<text transform="matrix(0.3440 0 0 0.3590 925.67 401.13)">6</text>
<text transform="matrix(0.3440 0 0 0.3590 968.32 401.13)">12</text>
<text transform="matrix(0.3440 0 0 0.3590 1015.61 401.13)">18</text>
<text transform="matrix(0.3440 0 0 0.3590 1064.66 401.13)">24</text>
<text transform="matrix(0.3440 0 0 0.3590 1114.69 401.13)">30</text>
<text transform="matrix(0.3440 0 0 0.3590 1164.67 401.13)">36</text>
<text transform="matrix(0.3440 0 0 0.3590 1214.24 401.13)">42</text>
<text transform="matrix(0.3440 0 0 0.3590 1263.72 401.13)">48</text>
<text transform="matrix(0.3440 0 0 0.3590 1311.68 401.13)">54</text>
<text transform="matrix(0.3440 0 0 0.3590 1361.82 401.13)">60</text>
<text transform="matrix(0.3440 0 0 0.3590 1411.15 401.13)">66</text>
<text transform="matrix(0.3527 0 0 0.3440 1459.09 401)">(h)</text>
<text transform="matrix(0.3802 0 0 0.3760 1071.55 436.05)">Time in LL</text>
</g>
<g>
<path d="M863.7 763.33h7.75M863.7 723.16h7.75M863.7 682.99h7.75M863.7 642.83h7.75M863.7 602.66h7.75M863.7 562.49h7.75M863.7 522.32h7.75" stroke="#000" stroke-width="5.3" fill="none"/>
<path d="M913.3 803.5v-6.95M962.89 803.5v-6.95M1012.49 803.5v-6.95M1062.08 803.5v-6.95M1111.68 803.5v-6.95M1161.28 803.5v-6.95M1210.87 803.5v-6.95M1260.47 803.5v-6.95M1310.06 803.5v-6.95M1359.66 803.5v-6.95M1409.25 803.5v-6.95" stroke="#000" stroke-width="6" fill="none"/>
<rect x="863.7" y="482.15" width="595.15" height="321.35" fill="none" stroke="#000" stroke-width="5.9"/>
<polyline points="888.7,801.5 938.6,646.8 988.2,670 1037.9,776.6 1087.8,765.3 1137.5,695.9 1185.4,709.3 1234.9,763.3 1284.5,745.1 1334.5,653.1 1384.1,746.4 1434.1,762" fill="none" stroke="#000" stroke-width="2.9" stroke-linejoin="round"/>
<path d="M938.6 621V671.5M930.7 621H947.7M930.7 671.5H947.7M988.2 641.7V696.7M980.3 641.7H997.3M980.3 696.7H997.3M1087.8 756.5V773.4M1079.9 756.5H1096.9M1079.9 773.4H1096.9M1137.5 680V712.3M1129.6 680H1146.6M1129.6 712.3H1146.6M1185.4 693.4V725.7M1177.5 693.4H1194.5M1177.5 725.7H1194.5M1234.9 755.2V773.4M1227 755.2H1244M1227 773.4H1244M1284.5 743.1V747.1M1276.6 743.1H1293.6M1276.6 747.1H1293.6M1334.5 641.2V664.4M1326.6 641.2H1343.6M1326.6 664.4H1343.6M1384.1 744.4V748.4M1376.2 744.4H1393.2M1376.2 748.4H1393.2M1434.1 756.5V765.3M1426.2 756.5H1443.2M1426.2 765.3H1443.2" stroke="#000" stroke-width="2.7" fill="none"/>
<path d="M879.1 801.5L888.5 793.2L897.9 801.5L888.5 809.8ZM929 646.8L938.4 638.5L947.8 646.8L938.4 655.1ZM978.6 670L988 661.7L997.4 670L988 678.3ZM1028.3 776.6L1037.7 768.3L1047.1 776.6L1037.7 784.9ZM1078.2 765.3L1087.6 757L1097 765.3L1087.6 773.6ZM1127.9 695.9L1137.3 687.6L1146.7 695.9L1137.3 704.2ZM1175.8 709.3L1185.2 701L1194.6 709.3L1185.2 717.6ZM1225.3 763.3L1234.7 755L1244.1 763.3L1234.7 771.6ZM1274.9 745.1L1284.3 736.8L1293.7 745.1L1284.3 753.4ZM1324.9 653.1L1334.3 644.8L1343.7 653.1L1334.3 661.4ZM1374.5 746.4L1383.9 738.1L1393.3 746.4L1383.9 754.7ZM1424.5 762L1433.9 753.7L1443.3 762L1433.9 770.3Z" fill="#000"/>
<polyline points="888.7,801.1 938.6,687.9 988.2,516.9 1037.9,752.7 1087.8,742.1 1137.5,724.2 1185.4,576.2 1234.9,642.5 1284.5,731.7 1334.5,714.8 1384.1,633.7 1434.1,598.4" fill="none" stroke="#ff0000" stroke-width="2.8" stroke-linejoin="round"/>
<path d="M938.6 684.6V690.9M930.7 684.6H947.7M930.7 690.9H947.7M988.2 499.3V537.8M980.3 499.3H997.3M980.3 537.8H997.3M1037.9 747.6V758.2M1030 747.6H1047M1030 758.2H1047M1087.8 735.5V748.1M1079.9 735.5H1096.9M1079.9 748.1H1096.9M1137.5 716.1V732.5M1129.6 716.1H1146.6M1129.6 732.5H1146.6M1185.4 555.5V598.9M1177.5 555.5H1194.5M1177.5 598.9H1194.5M1234.9 615.2V670M1227 615.2H1244M1227 670H1244M1284.5 729.7V733.7M1276.6 729.7H1293.6M1276.6 733.7H1293.6M1334.5 713.3V716.3M1326.6 713.3H1343.6M1326.6 716.3H1343.6M1384.1 632.2V635.2M1376.2 632.2H1393.2M1376.2 635.2H1393.2M1434.1 583.2V614M1426.2 583.2H1443.2M1426.2 614H1443.2" stroke="#000" stroke-width="2.7" fill="none"/>
<g fill="#ff0000"><circle cx="887.5" cy="801.1" r="7.8"/><circle cx="937.4" cy="687.9" r="7.8"/><circle cx="987" cy="516.9" r="7.8"/><circle cx="1036.7" cy="752.7" r="7.8"/><circle cx="1086.6" cy="742.1" r="7.8"/><circle cx="1136.3" cy="724.2" r="7.8"/><circle cx="1184.2" cy="576.2" r="7.8"/><circle cx="1233.7" cy="642.5" r="7.8"/><circle cx="1283.3" cy="731.7" r="7.8"/><circle cx="1333.3" cy="714.8" r="7.8"/><circle cx="1382.9" cy="633.7" r="7.8"/><circle cx="1432.9" cy="598.4" r="7.8"/></g>
<text transform="matrix(0.5798 0 0 0.5631 759.03 478.17)">g</text>
<text transform="matrix(0 -0.3697 0.3798 0 810.83 720.33)" font-style="italic">GI / PP2a</text>
<text transform="matrix(0.3120 0 0 0.3160 840.02 822.87)">0</text>
<text transform="matrix(0.3120 0 0 0.3160 814.09 782.64)">0.5</text>
<text transform="matrix(0.3120 0 0 0.3160 840.32 742.42)">1</text>
<text transform="matrix(0.3120 0 0 0.3160 814.09 702.19)">1.5</text>
<text transform="matrix(0.3120 0 0 0.3160 840.37 661.97)">2</text>
<text transform="matrix(0.3120 0 0 0.3160 814.09 621.74)">2.5</text>
<text transform="matrix(0.3120 0 0 0.3160 840.17 581.52)">3</text>
<text transform="matrix(0.3120 0 0 0.3160 814.09 541.29)">3.5</text>
<text transform="matrix(0.3120 0 0 0.3160 839.71 501.07)">4</text>
<text transform="matrix(0.3440 0 0 0.3590 881.13 839.78)">0</text>
<text transform="matrix(0.3440 0 0 0.3590 930.52 839.78)">6</text>
<text transform="matrix(0.3440 0 0 0.3590 973.12 839.78)">12</text>
<text transform="matrix(0.3440 0 0 0.3590 1023.21 839.78)">18</text>
<text transform="matrix(0.3440 0 0 0.3590 1071.21 839.78)">24</text>
<text transform="matrix(0.3440 0 0 0.3590 1121.99 839.78)">30</text>
<text transform="matrix(0.3440 0 0 0.3590 1169.47 839.78)">36</text>
<text transform="matrix(0.3440 0 0 0.3590 1219.54 839.78)">42</text>
<text transform="matrix(0.3440 0 0 0.3590 1268.72 839.78)">48</text>
<text transform="matrix(0.3440 0 0 0.3590 1318.28 839.78)">54</text>
<text transform="matrix(0.3440 0 0 0.3590 1368.67 839.78)">60</text>
<text transform="matrix(0.3440 0 0 0.3590 1418.55 839.78)">66</text>
<text transform="matrix(0.3545 0 0 0.3493 1466.09 839.89)">(h)</text>
<text transform="matrix(0.3789 0 0 0.3760 1090.25 869.7)">Time in LL</text>
</g>
<g>
<path d="M863.7 1176.91h7.75M863.7 1112.72h7.75M863.7 1048.53h7.75M863.7 984.34h7.75" stroke="#000" stroke-width="5.3" fill="none"/>
<path d="M913.38 1241.1v-6.95M963.07 1241.1v-6.95M1012.75 1241.1v-6.95M1062.43 1241.1v-6.95M1112.12 1241.1v-6.95M1161.8 1241.1v-6.95M1211.48 1241.1v-6.95M1261.17 1241.1v-6.95M1310.85 1241.1v-6.95M1360.53 1241.1v-6.95M1410.22 1241.1v-6.95" stroke="#000" stroke-width="6" fill="none"/>
<rect x="863.7" y="920.15" width="596.2" height="320.95" fill="none" stroke="#000" stroke-width="5.9"/>
<polyline points="888.6,1178.3 938.6,1143 988.2,1016.9 1036.9,1043.9 1087.3,1149.8 1137,1140.2 1187,1002.8 1236.6,1039.6 1287.1,1156.8 1335,1081.7 1384.9,1044.6 1435.1,1102.4" fill="none" stroke="#000" stroke-width="2.9" stroke-linejoin="round"/>
<path d="M888.6 1172.5V1185M880.7 1172.5H897.7M880.7 1185H897.7M938.6 1126.3V1159.3M930.7 1126.3H947.7M930.7 1159.3H947.7M988.2 984.1V1048.9M980.3 984.1H997.3M980.3 1048.9H997.3M1036.9 1022.4V1065.3M1029 1022.4H1046M1029 1065.3H1046M1087.3 1116.5V1182M1079.4 1116.5H1096.4M1079.4 1182H1096.4M1137 1121.5V1159M1129.1 1121.5H1146.1M1129.1 1159H1146.1M1187 974V1031.3M1179.1 974H1196.1M1179.1 1031.3H1196.1M1236.6 993.4V1085.5M1228.7 993.4H1245.7M1228.7 1085.5H1245.7M1287.1 1155.3V1158.3M1279.2 1155.3H1296.2M1279.2 1158.3H1296.2M1335 1066.6V1098.1M1327.1 1066.6H1344.1M1327.1 1098.1H1344.1M1384.9 1039.3V1048.9M1377 1039.3H1394M1377 1048.9H1394M1435.1 1073.6V1133.4M1427.2 1073.6H1444.2M1427.2 1133.4H1444.2" stroke="#000" stroke-width="2.7" fill="none"/>
<path d="M879 1178.3L888.4 1170L897.8 1178.3L888.4 1186.6ZM929 1143L938.4 1134.7L947.8 1143L938.4 1151.3ZM978.6 1016.9L988 1008.6L997.4 1016.9L988 1025.2ZM1027.3 1043.9L1036.7 1035.6L1046.1 1043.9L1036.7 1052.2ZM1077.7 1149.8L1087.1 1141.5L1096.5 1149.8L1087.1 1158.1ZM1127.4 1140.2L1136.8 1131.9L1146.2 1140.2L1136.8 1148.5ZM1177.4 1002.8L1186.8 994.5L1196.2 1002.8L1186.8 1011.1ZM1227 1039.6L1236.4 1031.3L1245.8 1039.6L1236.4 1047.9ZM1277.5 1156.8L1286.9 1148.5L1296.3 1156.8L1286.9 1165.1ZM1325.4 1081.7L1334.8 1073.4L1344.2 1081.7L1334.8 1090ZM1375.3 1044.6L1384.7 1036.3L1394.1 1044.6L1384.7 1052.9ZM1425.5 1102.4L1434.9 1094.1L1444.3 1102.4L1434.9 1110.7Z" fill="#000"/>
<polyline points="888.6,1191.4 938.6,1184.6 988.2,1034.5 1036.9,1054.4 1087.3,1109.9 1137,1161.1 1187,1082.9 1236.6,1030.7 1287.1,1059 1335,1135.4 1384.9,1103.6 1435.1,1040.8" fill="none" stroke="#ff0000" stroke-width="2.9" stroke-linejoin="round"/>
<path d="M938.6 1183.1V1186.1M930.7 1183.1H947.7M930.7 1186.1H947.7M988.2 1030V1041.8M980.3 1030H997.3M980.3 1041.8H997.3M1036.9 1016.1V1092.3M1029 1016.1H1046M1029 1092.3H1046M1087.3 1098.1V1124.5M1079.4 1098.1H1096.4M1079.4 1124.5H1096.4M1137 1158.6V1163.6M1129.1 1158.6H1146.1M1129.1 1163.6H1146.1M1187 1062.3V1107.4M1179.1 1062.3H1196.1M1179.1 1107.4H1196.1M1236.6 991V1073.6M1228.7 991H1245.7M1228.7 1073.6H1245.7M1287.1 1055.5V1063M1279.2 1055.5H1296.2M1279.2 1063H1296.2M1335 1130.9V1141.7M1327.1 1130.9H1344.1M1327.1 1141.7H1344.1M1384.9 1101.6V1105.6M1377 1101.6H1394M1377 1105.6H1394M1435.1 1026.2V1057.2M1427.2 1026.2H1444.2M1427.2 1057.2H1444.2" stroke="#000" stroke-width="2.7" fill="none"/>
<g fill="#ff0000"><circle cx="887.4" cy="1191.4" r="7.8"/><circle cx="937.4" cy="1184.6" r="7.8"/><circle cx="987" cy="1034.5" r="7.8"/><circle cx="1035.7" cy="1054.4" r="7.8"/><circle cx="1086.1" cy="1109.9" r="7.8"/><circle cx="1135.8" cy="1161.1" r="7.8"/><circle cx="1185.8" cy="1082.9" r="7.8"/><circle cx="1235.4" cy="1030.7" r="7.8"/><circle cx="1285.9" cy="1059" r="7.8"/><circle cx="1333.8" cy="1135.4" r="7.8"/><circle cx="1383.7" cy="1103.6" r="7.8"/><circle cx="1433.9" cy="1040.8" r="7.8"/></g>
<text transform="matrix(0.5572 0 0 0.5536 762.48 919.56)">h</text>
<text transform="matrix(0 -0.3772 0.3798 0 812.53 1187.36)" font-style="italic">ELF3 / PP2a</text>
<text transform="matrix(0.2660 0 0 0.3080 838.03 1258.18)" stroke-width="0.3">0</text>
<text transform="matrix(0.2660 0 0 0.3080 815.93 1193.96)" stroke-width="0.3">0.5</text>
<text transform="matrix(0.2660 0 0 0.3080 838.29 1129.74)" stroke-width="0.3">1</text>
<text transform="matrix(0.2660 0 0 0.3080 815.93 1065.52)" stroke-width="0.3">1.5</text>
<text transform="matrix(0.2660 0 0 0.3080 838.33 1001.3)" stroke-width="0.3">2</text>
<text transform="matrix(0.2660 0 0 0.3080 815.93 937.08)" stroke-width="0.3">2.5</text>
<text transform="matrix(0.3440 0 0 0.3590 880.58 1278.83)">0</text>
<text transform="matrix(0.3440 0 0 0.3590 929.92 1278.83)">6</text>
<text transform="matrix(0.3440 0 0 0.3590 972.82 1278.83)">12</text>
<text transform="matrix(0.3440 0 0 0.3590 1020.31 1278.83)">18</text>
<text transform="matrix(0.3440 0 0 0.3590 1069.71 1278.83)">24</text>
<text transform="matrix(0.3440 0 0 0.3590 1120.59 1278.83)">30</text>
<text transform="matrix(0.3440 0 0 0.3590 1170.57 1278.83)">36</text>
<text transform="matrix(0.3440 0 0 0.3590 1220.04 1278.83)">42</text>
<text transform="matrix(0.3440 0 0 0.3590 1270.52 1278.83)">48</text>
<text transform="matrix(0.3440 0 0 0.3590 1318.28 1278.83)">54</text>
<text transform="matrix(0.3440 0 0 0.3590 1368.37 1278.83)">60</text>
<text transform="matrix(0.3440 0 0 0.3590 1417.95 1278.83)">66</text>
<text transform="matrix(0.3563 0 0 0.3472 1465.58 1279.13)">(h)</text>
<text transform="matrix(0.3798 0 0 0.3760 1078.15 1317)">Time in LL</text>
</g>
<g>
<path d="M869.1 1651.42h7.75M869.1 1610.99h7.75M869.1 1570.56h7.75M869.1 1530.12h7.75M869.1 1489.69h7.75M869.1 1449.26h7.75M869.1 1408.83h7.75" stroke="#000" stroke-width="5.3" fill="none"/>
<path d="M918.33 1691.85v-6.95M967.57 1691.85v-6.95M1016.8 1691.85v-6.95M1066.03 1691.85v-6.95M1115.27 1691.85v-6.95M1164.5 1691.85v-6.95M1213.73 1691.85v-6.95M1262.97 1691.85v-6.95M1312.2 1691.85v-6.95M1361.43 1691.85v-6.95M1410.67 1691.85v-6.95" stroke="#000" stroke-width="6" fill="none"/>
<rect x="869.1" y="1368.4" width="590.8" height="323.45" fill="none" stroke="#000" stroke-width="5.9"/>
<polyline points="893.6,1691 943.4,1683 993.3,1445.5 1040.7,1569.1 1090.4,1654.1 1139.5,1646.5 1189.5,1499 1238.6,1584.7 1288.3,1647.3 1336.2,1577.9 1385.9,1584.7 1435.1,1628.8" fill="none" stroke="#000" stroke-width="2.9" stroke-linejoin="round"/>
<path d="M993.3 1401.4V1488.9M985.4 1401.4H1002.4M985.4 1488.9H1002.4M1040.7 1565.6V1572.6M1032.8 1565.6H1049.8M1032.8 1572.6H1049.8M1090.4 1641.5V1665.9M1082.5 1641.5H1099.5M1082.5 1665.9H1099.5M1139.5 1642.5V1650.5M1131.6 1642.5H1148.6M1131.6 1650.5H1148.6M1189.5 1464.9V1531.8M1181.6 1464.9H1198.6M1181.6 1531.8H1198.6M1238.6 1548.5V1620M1230.7 1548.5H1247.7M1230.7 1620H1247.7M1288.3 1640.2V1654.1M1280.4 1640.2H1297.4M1280.4 1654.1H1297.4M1336.2 1572.1V1584.2M1328.3 1572.1H1345.3M1328.3 1584.2H1345.3M1385.9 1582.7V1586.7M1378 1582.7H1395M1378 1586.7H1395M1435.1 1620V1636.4M1427.2 1620H1444.2M1427.2 1636.4H1444.2" stroke="#000" stroke-width="2.7" fill="none"/>
<path d="M884 1691L893.4 1682.7L902.8 1691L893.4 1699.3ZM933.8 1683L943.2 1674.7L952.6 1683L943.2 1691.3ZM983.7 1445.5L993.1 1437.2L1002.5 1445.5L993.1 1453.8ZM1031.1 1569.1L1040.5 1560.8L1049.9 1569.1L1040.5 1577.4ZM1080.8 1654.1L1090.2 1645.8L1099.6 1654.1L1090.2 1662.4ZM1129.9 1646.5L1139.3 1638.2L1148.7 1646.5L1139.3 1654.8ZM1179.9 1499L1189.3 1490.7L1198.7 1499L1189.3 1507.3ZM1229 1584.7L1238.4 1576.4L1247.8 1584.7L1238.4 1593ZM1278.7 1647.3L1288.1 1639L1297.5 1647.3L1288.1 1655.6ZM1326.6 1577.9L1336 1569.6L1345.4 1577.9L1336 1586.2ZM1376.3 1584.7L1385.7 1576.4L1395.1 1584.7L1385.7 1593ZM1425.5 1628.8L1434.9 1620.5L1444.3 1628.8L1434.9 1637.1Z" fill="#000"/>
<polyline points="893.6,1690.6 943.4,1685.6 993.3,1403.7 1040.7,1556.5 1090.4,1648.5 1139.5,1634.6 1189.5,1563.3 1238.6,1533 1288.3,1604.1 1336.2,1614.2 1385.9,1600.6 1435.1,1541.3" fill="none" stroke="#ff0000" stroke-width="2.9" stroke-linejoin="round"/>
<path d="M943.4 1683.6V1687.6M935.5 1683.6H952.5M935.5 1687.6H952.5M993.3 1390.1V1417.8M985.4 1390.1H1002.4M985.4 1417.8H1002.4M1040.7 1549V1564.5M1032.8 1549H1049.8M1032.8 1564.5H1049.8M1090.4 1640.2V1656M1082.5 1640.2H1099.5M1082.5 1656H1099.5M1139.5 1631.6V1637.6M1131.6 1631.6H1148.6M1131.6 1637.6H1148.6M1189.5 1550.2V1577.9M1181.6 1550.2H1198.6M1181.6 1577.9H1198.6M1238.6 1516.6V1550.6M1230.7 1516.6H1247.7M1230.7 1550.6H1247.7M1288.3 1591.5V1618.3M1280.4 1591.5H1297.4M1280.4 1618.3H1297.4M1336.2 1603.6V1626.8M1328.3 1603.6H1345.3M1328.3 1626.8H1345.3M1385.9 1596.1V1605.1M1378 1596.1H1395M1378 1605.1H1395M1435.1 1536.8V1548.7M1427.2 1536.8H1444.2M1427.2 1548.7H1444.2" stroke="#000" stroke-width="2.7" fill="none"/>
<g fill="#ff0000"><circle cx="892.4" cy="1690.6" r="7.8"/><circle cx="942.2" cy="1685.6" r="7.8"/><circle cx="992.1" cy="1403.7" r="7.8"/><circle cx="1039.5" cy="1556.5" r="7.8"/><circle cx="1089.2" cy="1648.5" r="7.8"/><circle cx="1138.3" cy="1634.6" r="7.8"/><circle cx="1188.3" cy="1563.3" r="7.8"/><circle cx="1237.4" cy="1533" r="7.8"/><circle cx="1287.1" cy="1604.1" r="7.8"/><circle cx="1335" cy="1614.2" r="7.8"/><circle cx="1384.7" cy="1600.6" r="7.8"/><circle cx="1433.9" cy="1541.3" r="7.8"/></g>
<text transform="matrix(0.5487 0 0 0.5509 788.17 1365.86)">i</text>
<text transform="matrix(0 -0.3772 0.3798 0 812.53 1634.96)" font-style="italic">ELF4 / PP2a</text>
<text transform="matrix(0.3120 0 0 0.3160 844.92 1701.37)">0</text>
<text transform="matrix(0.3120 0 0 0.3160 818.99 1660.89)">0.5</text>
<text transform="matrix(0.3120 0 0 0.3160 845.22 1620.42)">1</text>
<text transform="matrix(0.3120 0 0 0.3160 818.99 1579.94)">1.5</text>
<text transform="matrix(0.3120 0 0 0.3160 845.27 1539.47)">2</text>
<text transform="matrix(0.3120 0 0 0.3160 818.99 1498.99)">2.5</text>
<text transform="matrix(0.3120 0 0 0.3160 845.07 1458.52)">3</text>
<text transform="matrix(0.3120 0 0 0.3160 818.99 1418.04)">3.5</text>
<text transform="matrix(0.3120 0 0 0.3160 844.61 1377.57)">4</text>
<text transform="matrix(0.3440 0 0 0.3590 884.13 1725.78)">0</text>
<text transform="matrix(0.3440 0 0 0.3590 929.27 1725.78)">6</text>
<text transform="matrix(0.3440 0 0 0.3590 971.22 1725.78)">12</text>
<text transform="matrix(0.3440 0 0 0.3590 1020.01 1725.78)">18</text>
<text transform="matrix(0.3440 0 0 0.3590 1068.41 1725.78)">24</text>
<text transform="matrix(0.3440 0 0 0.3590 1120.19 1725.78)">30</text>
<text transform="matrix(0.3440 0 0 0.3590 1168.97 1725.78)">36</text>
<text transform="matrix(0.3440 0 0 0.3590 1219.94 1725.78)">42</text>
<text transform="matrix(0.3440 0 0 0.3590 1267.92 1725.78)">48</text>
<text transform="matrix(0.3440 0 0 0.3590 1316.98 1725.78)">54</text>
<text transform="matrix(0.3440 0 0 0.3590 1367.67 1725.78)">60</text>
<text transform="matrix(0.3440 0 0 0.3590 1416.85 1725.78)">66</text>
<text transform="matrix(0.3572 0 0 0.3461 1464.57 1726.36)">(h)</text>
<text transform="matrix(0.3802 0 0 0.3760 1079.85 1764)">Time in LL</text>
</g>
<g>
<path d="M868.6 2095.06h7.75M868.6 2049.06h7.75M868.6 2003.07h7.75M868.6 1957.08h7.75M868.6 1911.09h7.75M868.6 1865.09h7.75" stroke="#000" stroke-width="5.3" fill="none"/>
<path d="M917.88 2141.05v-6.95M967.15 2141.05v-6.95M1016.43 2141.05v-6.95M1065.7 2141.05v-6.95M1114.98 2141.05v-6.95M1164.25 2141.05v-6.95M1213.53 2141.05v-6.95M1262.8 2141.05v-6.95M1312.08 2141.05v-6.95M1361.35 2141.05v-6.95M1410.62 2141.05v-6.95" stroke="#000" stroke-width="6" fill="none"/>
<rect x="868.6" y="1819.1" width="591.3" height="321.95" fill="none" stroke="#000" stroke-width="5.9"/>
<polyline points="892.6,2137 942.1,2120 992.5,1990.6 1041.9,2049.9 1089.6,2125 1139,2111 1189.2,2036.5 1239.2,2069.3 1287.1,2112.9 1336.5,2036.5 1386.7,2052.4 1435.8,2077.6" fill="none" stroke="#000" stroke-width="2.9" stroke-linejoin="round"/>
<path d="M942.1 2115V2125M934.2 2115H951.2M934.2 2125H951.2M992.5 1985.6V1995.6M984.6 1985.6H1001.6M984.6 1995.6H1001.6M1041.9 2041.8V2058.2M1034 2041.8H1051M1034 2058.2H1051M1089.6 2112.4V2136.9M1081.7 2112.4H1098.7M1081.7 2136.9H1098.7M1139 2102.8V2119.2M1131.1 2102.8H1148.1M1131.1 2119.2H1148.1M1189.2 2006.5V2066.5M1181.3 2006.5H1198.3M1181.3 2066.5H1198.3M1239.2 2044V2094M1231.3 2044H1248.3M1231.3 2094H1248.3M1287.1 2111.4V2114.4M1279.2 2111.4H1296.2M1279.2 2114.4H1296.2M1336.5 2022.9V2048.6M1328.6 2022.9H1345.6M1328.6 2048.6H1345.6M1386.7 2039.8V2065.5M1378.8 2039.8H1395.8M1378.8 2065.5H1395.8M1435.8 2060.7V2094.5M1427.9 2060.7H1444.9M1427.9 2094.5H1444.9" stroke="#000" stroke-width="2.7" fill="none"/>
<path d="M883 2137L892.4 2128.7L901.8 2137L892.4 2145.3ZM932.5 2120L941.9 2111.7L951.3 2120L941.9 2128.3ZM982.9 1990.6L992.3 1982.3L1001.7 1990.6L992.3 1998.9ZM1032.3 2049.9L1041.7 2041.6L1051.1 2049.9L1041.7 2058.2ZM1080 2125L1089.4 2116.7L1098.8 2125L1089.4 2133.3ZM1129.4 2111L1138.8 2102.7L1148.2 2111L1138.8 2119.3ZM1179.6 2036.5L1189 2028.2L1198.4 2036.5L1189 2044.8ZM1229.6 2069.3L1239 2061L1248.4 2069.3L1239 2077.6ZM1277.5 2112.9L1286.9 2104.6L1296.3 2112.9L1286.9 2121.2ZM1326.9 2036.5L1336.3 2028.2L1345.7 2036.5L1336.3 2044.8ZM1377.1 2052.4L1386.5 2044.1L1395.9 2052.4L1386.5 2060.7ZM1426.2 2077.6L1435.6 2069.3L1445 2077.6L1435.6 2085.9Z" fill="#000"/>
<polyline points="892.6,2135.6 942.1,2130.6 992.5,1952.8 1041.9,2061.7 1089.6,2104.9 1139,2114.9 1189.2,2068.8 1239.2,2034.3 1287.1,2087 1336.5,2112.4 1386.7,2085.2 1435.8,2041.1" fill="none" stroke="#ff0000" stroke-width="2.9" stroke-linejoin="round"/>
<path d="M942.1 2127.6V2133.6M934.2 2127.6H951.2M934.2 2133.6H951.2M992.5 1876.7V2031.7M984.6 1876.7H1001.6M984.6 2031.7H1001.6M1041.9 2052.4V2071.3M1034 2052.4H1051M1034 2071.3H1051M1089.6 2098.6V2112.4M1081.7 2098.6H1098.7M1081.7 2112.4H1098.7M1139 2111.9V2117.9M1131.1 2111.9H1148.1M1131.1 2117.9H1148.1M1189.2 2046.9V2090.7M1181.3 2046.9H1198.3M1181.3 2090.7H1198.3M1239.2 2000.7V2067.8M1231.3 2000.7H1248.3M1231.3 2067.8H1248.3M1287.1 2084V2092.7M1279.2 2084H1296.2M1279.2 2092.7H1296.2M1336.5 2110.4V2114.4M1328.6 2110.4H1345.6M1328.6 2114.4H1345.6M1386.7 2082.7V2087.7M1378.8 2082.7H1395.8M1378.8 2087.7H1395.8M1435.8 2014.6V2068.8M1427.9 2014.6H1444.9M1427.9 2068.8H1444.9" stroke="#000" stroke-width="2.7" fill="none"/>
<g fill="#ff0000"><circle cx="891.4" cy="2135.6" r="7.8"/><circle cx="940.9" cy="2130.6" r="7.8"/><circle cx="991.3" cy="1952.8" r="7.8"/><circle cx="1040.7" cy="2061.7" r="7.8"/><circle cx="1088.4" cy="2104.9" r="7.8"/><circle cx="1137.8" cy="2114.9" r="7.8"/><circle cx="1188" cy="2068.8" r="7.8"/><circle cx="1238" cy="2034.3" r="7.8"/><circle cx="1285.9" cy="2087" r="7.8"/><circle cx="1335.3" cy="2112.4" r="7.8"/><circle cx="1385.5" cy="2085.2" r="7.8"/><circle cx="1434.6" cy="2041.1" r="7.8"/></g>
<text transform="matrix(0.6096 0 0 0.5664 774.48 1808.69)">j</text>
<text transform="matrix(0 -0.3756 0.3798 0 831.53 2077.45)" font-style="italic">LUX / PP2a</text>
<text transform="matrix(0.3120 0 0 0.3160 840.12 2151.67)">0</text>
<text transform="matrix(0.3120 0 0 0.3160 840.42 2105.44)">1</text>
<text transform="matrix(0.3120 0 0 0.3160 840.47 2059.21)">2</text>
<text transform="matrix(0.3120 0 0 0.3160 840.27 2012.98)">3</text>
<text transform="matrix(0.3120 0 0 0.3160 839.81 1966.75)">4</text>
<text transform="matrix(0.3120 0 0 0.3160 840.21 1920.53)">5</text>
<text transform="matrix(0.3120 0 0 0.3160 840.27 1874.3)">6</text>
<text transform="matrix(0.3120 0 0 0.3160 840.47 1828.07)">7</text>
<text transform="matrix(0.3440 0 0 0.3590 882.83 2174.78)">0</text>
<text transform="matrix(0.3440 0 0 0.3590 928.07 2174.78)">6</text>
<text transform="matrix(0.3440 0 0 0.3590 969.92 2174.78)">12</text>
<text transform="matrix(0.3440 0 0 0.3590 1019.01 2174.78)">18</text>
<text transform="matrix(0.3440 0 0 0.3590 1067.11 2174.78)">24</text>
<text transform="matrix(0.3440 0 0 0.3590 1118.89 2174.78)">30</text>
<text transform="matrix(0.3440 0 0 0.3590 1167.27 2174.78)">36</text>
<text transform="matrix(0.3440 0 0 0.3590 1218.34 2174.78)">42</text>
<text transform="matrix(0.3440 0 0 0.3590 1266.42 2174.78)">48</text>
<text transform="matrix(0.3440 0 0 0.3590 1315.68 2174.78)">54</text>
<text transform="matrix(0.3440 0 0 0.3590 1366.27 2174.78)">60</text>
<text transform="matrix(0.3440 0 0 0.3590 1415.65 2174.78)">66</text>
<text transform="matrix(0.3572 0 0 0.3482 1463.07 2175.31)">(h)</text>
<text transform="matrix(0.3794 0 0 0.3760 1078.55 2213)">Time in LL</text>
</g>
<g>
<path d="M1090.4 2245.6H1182.5" stroke="#000" stroke-width="3.4"/>
<path d="M1126.3 2246.6L1138.4 2233L1150.5 2246.6L1138.4 2260.2Z" fill="#000"/>
<path d="M1090.4 2287.7H1182.5" stroke="#ff0000" stroke-width="3.4"/>
<ellipse cx="1137.3" cy="2287" rx="11.1" ry="11.8" fill="#ff0000"/>
<text transform="matrix(0.3825 0 0 0.3838 1194.06 2256.72)">Col</text>
<text transform="matrix(0.3790 0 0 0.3890 1194.81 2300.2)" font-style="italic">uch1/uch2/uch3</text>
</g>
</svg>
</body></html>
